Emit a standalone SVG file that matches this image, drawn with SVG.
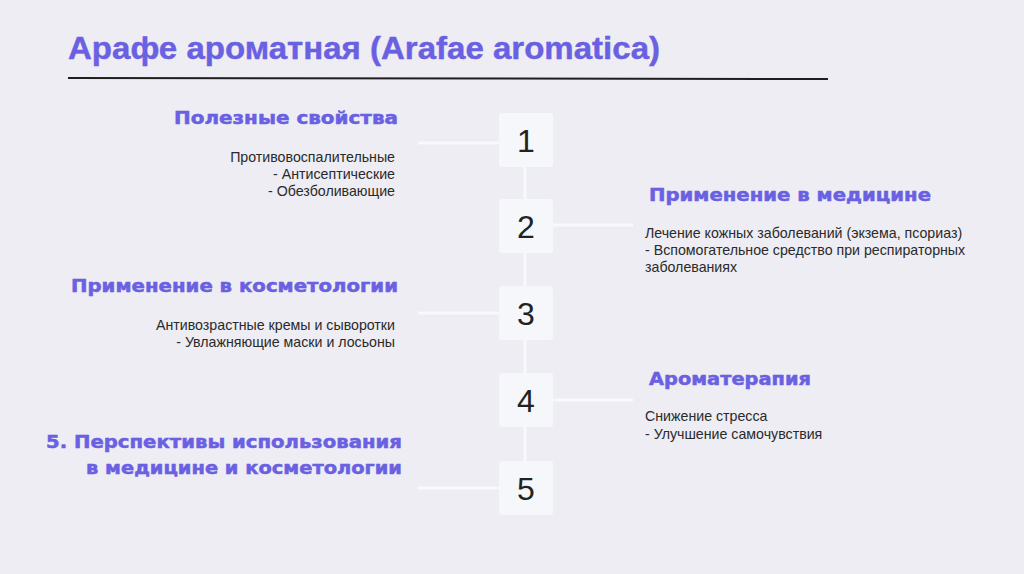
<svg xmlns="http://www.w3.org/2000/svg" width="1024" height="574" viewBox="0 0 1024 574">
<style>
.bg{fill:#ededf3}
.box{fill:#f6f7fa}
.ln{stroke:#f9f9fc;stroke-width:3;fill:none}
.num{font-family:"Liberation Sans",Arial,sans-serif;font-size:32px;fill:#222;text-anchor:middle}
.h{font-family:"DejaVu Sans","Liberation Sans",sans-serif;font-weight:bold;font-size:17px;fill:#6a60e2;stroke:#6a60e2;stroke-width:0.5}
.t{font-family:"Liberation Sans",Arial,sans-serif;font-size:14.2px;fill:#2a2a2a}
.r{text-anchor:end}
</style>
<rect class="bg" x="0" y="0" width="1024" height="574"/>
<g id="title">
<text x="68" y="59" font-family="'Liberation Sans',Arial,sans-serif" font-weight="bold" font-size="31" fill="#6a60e2" stroke="#6a60e2" stroke-width="0.4" textLength="592" lengthAdjust="spacingAndGlyphs">Арафе ароматная (Arafae aromatica)</text>
<line x1="68" y1="78" x2="828" y2="79" stroke="#1e1e1e" stroke-width="2"/>
</g>
<g id="connectors">
<line class="ln" x1="525" y1="140" x2="525" y2="488"/>
<line class="ln" x1="418" y1="143" x2="499" y2="143"/>
<line class="ln" x1="553" y1="225" x2="633" y2="225"/>
<line class="ln" x1="418" y1="313" x2="499" y2="313"/>
<line class="ln" x1="553" y1="400" x2="633" y2="400"/>
<line class="ln" x1="418" y1="488" x2="499" y2="488"/>
</g>
<g id="n1">
<rect class="box" x="499" y="113" width="54" height="54" rx="3"/>
<text class="num" x="526" y="152">1</text>
<text class="h r" x="398" y="124" textLength="224" lengthAdjust="spacingAndGlyphs">Полезные свойства</text>
<text class="t r" x="395" y="162">Противовоспалительные</text>
<text class="t r" x="395" y="179">- Антисептические</text>
<text class="t r" x="395" y="196">- Обезболивающие</text>
</g>
<g id="n2">
<rect class="box" x="499" y="199" width="54" height="54" rx="3"/>
<text class="num" x="526" y="238">2</text>
<text class="h" x="649" y="201" textLength="282" lengthAdjust="spacingAndGlyphs">Применение в медицине</text>
<text class="t" x="645" y="238">Лечение кожных заболеваний (экзема, псориаз)</text>
<text class="t" x="645" y="255">- Вспомогательное средство при респираторных</text>
<text class="t" x="645" y="272">заболеваниях</text>
</g>
<g id="n3">
<rect class="box" x="499" y="286" width="54" height="54" rx="3"/>
<text class="num" x="526" y="325">3</text>
<text class="h r" x="398" y="292" textLength="327" lengthAdjust="spacingAndGlyphs">Применение в косметологии</text>
<text class="t r" x="395" y="330">Антивозрастные кремы и сыворотки</text>
<text class="t r" x="395" y="347">- Увлажняющие маски и лосьоны</text>
</g>
<g id="n4">
<rect class="box" x="499" y="373" width="54" height="54" rx="3"/>
<text class="num" x="526" y="412">4</text>
<text class="h" x="649" y="385" textLength="162" lengthAdjust="spacingAndGlyphs">Ароматерапия</text>
<text class="t" x="645" y="421">Снижение стресса</text>
<text class="t" x="645" y="439">- Улучшение самочувствия</text>
</g>
<g id="n5">
<rect class="box" x="499" y="461" width="54" height="54" rx="3"/>
<text class="num" x="526" y="500">5</text>
<text class="h r" x="402" y="448" textLength="356" lengthAdjust="spacingAndGlyphs">5. Перспективы использования</text>
<text class="h r" x="402" y="474" textLength="316" lengthAdjust="spacingAndGlyphs">в медицине и косметологии</text>
</g>
</svg>
